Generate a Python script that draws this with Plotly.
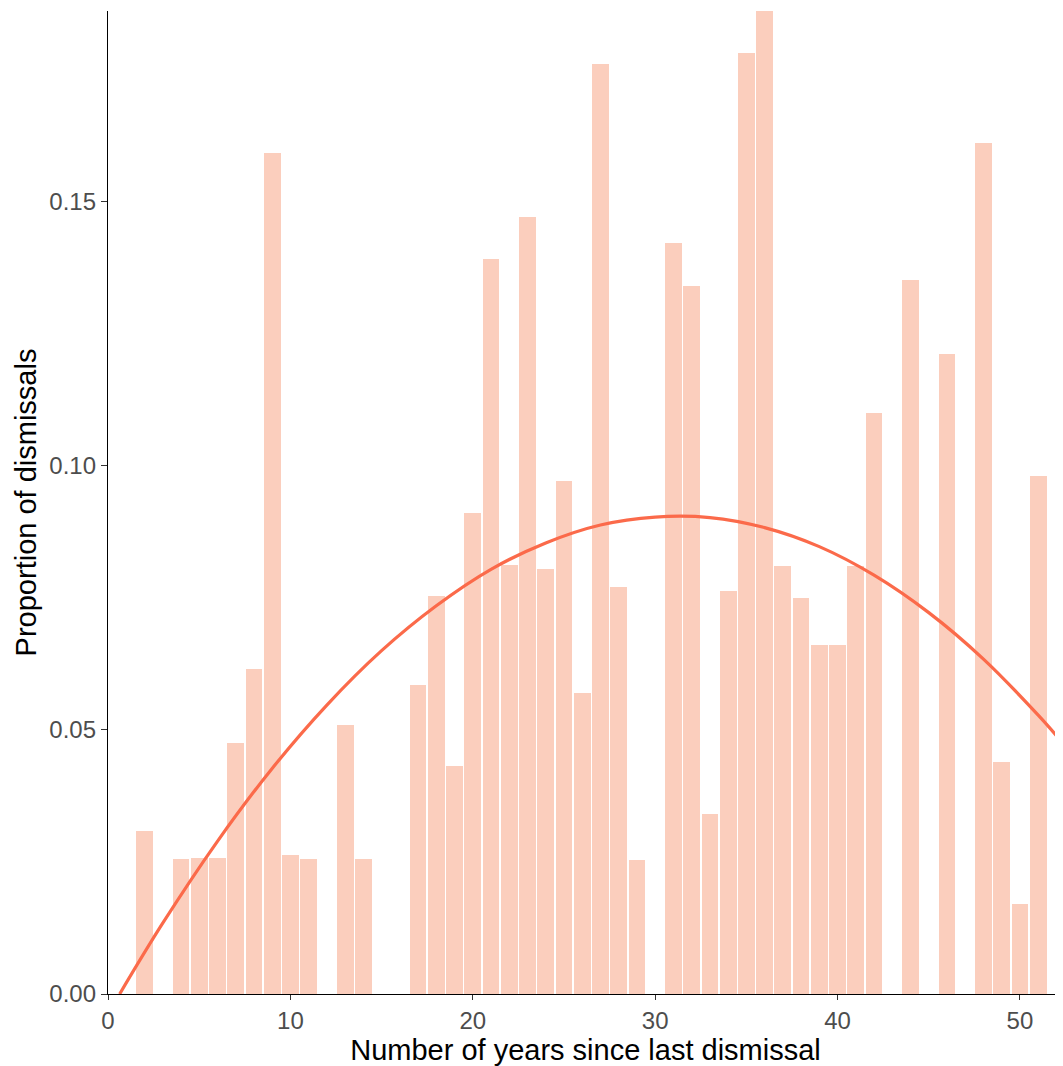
import plotly.graph_objects as go

# Bar data: years since last dismissal -> proportion of dismissals
years = [2, 4, 5, 6, 7, 8, 9, 10, 11, 13, 14, 17, 18, 19, 20, 21, 22, 23, 24, 25,
         26, 27, 28, 29, 31, 32, 33, 34, 35, 36, 37, 38, 39, 40, 41, 42, 44, 46,
         48, 49, 50, 51]
proportion = [0.0309, 0.0256, 0.0257, 0.0257, 0.0475, 0.0615, 0.1592, 0.0263, 0.0256,
              0.0509, 0.0256, 0.0585, 0.0753, 0.0432, 0.0910, 0.1391, 0.0812, 0.1471,
              0.0804, 0.0971, 0.0570, 0.1760, 0.0770, 0.0254, 0.1422, 0.1340, 0.0341,
              0.0763, 0.1781, 0.1861, 0.0810, 0.0750, 0.0661, 0.0661, 0.0810, 0.1100,
              0.1352, 0.1211, 0.1611, 0.0439, 0.0170, 0.0981]

# Smoothed trend curve
curve_x = [0.64, 3, 6, 9, 12, 15, 18, 21, 24, 27, 30, 33, 36, 39, 42, 45, 48, 51, 52.08]
curve_y = [0.0000, 0.0134, 0.0289, 0.0427, 0.0547, 0.0650, 0.0735, 0.0804, 0.0854,
           0.0888, 0.0903, 0.0902, 0.0883, 0.0847, 0.0793, 0.0722, 0.0634, 0.0528, 0.0486]

x_ticks = [0, 10, 20, 30, 40, 50]
y_ticks = [0.00, 0.05, 0.10, 0.15]
y_tick_labels = ["0.00", "0.05", "0.10", "0.15"]

fig = go.Figure()
fig.add_trace(go.Bar(
    x=years, y=proportion, width=0.92,
    marker=dict(color="#FBCEBD", line=dict(width=0)),
    showlegend=False, hoverinfo="x+y",
))
fig.add_trace(go.Scatter(
    x=curve_x, y=curve_y, mode="lines", line=dict(color="#FB6A4A", width=3.2, shape="spline"),
    showlegend=False, cliponaxis=False,
))

font_family = "Liberation Sans, Arial, sans-serif"
fig.update_layout(
    width=1055, height=1058,
    margin=dict(l=100, r=0, t=3, b=72, autoexpand=False),
    plot_bgcolor="white", paper_bgcolor="white",
    font=dict(family=font_family, color="#4D4D4D", size=24),
    bargap=0,
)
fig.update_xaxes(
    range=[0, 52.36], tickvals=x_ticks, ticktext=[str(v) for v in x_ticks],
    showgrid=False, zeroline=False,
    showline=True, linecolor="black", linewidth=1.3,
    ticks="outside", ticklen=5, tickwidth=1.2, tickcolor="#333333",
    tickfont=dict(size=24, color="#4D4D4D"),
    title=dict(text="Number of years since last dismissal", font=dict(size=29, color="black"), standoff=4),
)
fig.update_yaxes(
    range=[0, 0.1861], tickvals=y_ticks, ticktext=y_tick_labels,
    showgrid=False, zeroline=False,
    showline=True, linecolor="black", linewidth=1.3,
    ticks="outside", ticklen=6, tickwidth=1.2, tickcolor="#333333",
    tickfont=dict(size=24, color="#4D4D4D"),
    title=dict(text="Proportion of dismissals", font=dict(size=29, color="black"), standoff=4),
)

fig.write_html("out.html")
